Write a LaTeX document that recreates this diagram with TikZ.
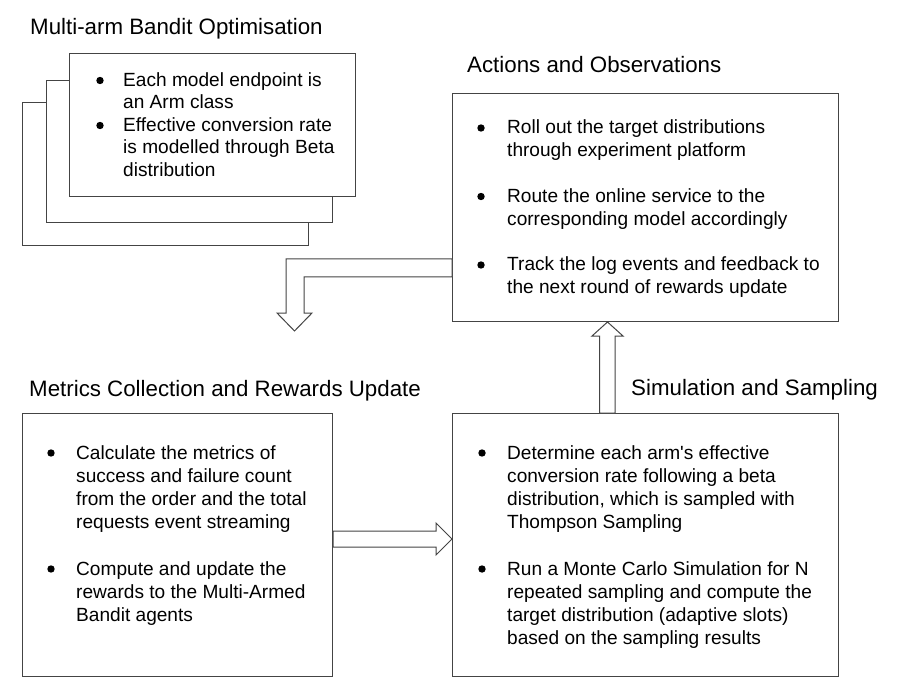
\documentclass[tikz,border=0pt]{standalone}
\usepackage{fontspec}
\setmainfont{Liberation Sans}[Ligatures=TeXOff]
\usetikzlibrary{calc}
\definecolor{edge}{HTML}{444444}
\newcommand\bultext[2][23]{\parbox[t]{360pt}{\raggedright\fontsize{19.1}{#1}\selectfont #2}}
\tikzset{
  box/.style={draw=edge, line width=1pt, fill=white, rectangle, inner sep=0pt, anchor=north west},
  heading/.style={anchor=base west, inner sep=0pt, font=\fontsize{22.3}{26}\selectfont},
  item/.style={anchor=base west, inner sep=0pt},
  dot/.style={fill=black},
  blockarrow/.style={draw=edge, line width=1pt, fill=white, line join=miter}
}
\begin{document}
\begin{tikzpicture}[x=1pt,y=-1pt]
\useasboundingbox (0,0) rectangle (901,692);

% headings
\node[heading] (h1) at (30,35) {Multi-arm Bandit Optimisation};
\node[heading] (h2) at (467,73) {Actions and Observations};
\node[heading] (h3) at (29,396) {Metrics Collection and Rewards Update};
\node[heading] (h4) at (631,395) {Simulation and Sampling};

% stacked arm boxes
\node[box, minimum width=286pt, minimum height=143pt] (back) at (22,102) {};
\node[box, minimum width=286pt, minimum height=142pt] (mid) at (46,80) {};
\node[box, minimum width=286pt, minimum height=143pt] (front) at (69,53) {};

% main boxes
\node[box, minimum width=386pt, minimum height=228pt] (act) at (452,93) {};
\node[box, minimum width=310pt, minimum height=263pt] (met) at (22,413) {};
\node[box, minimum width=386pt, minimum height=263pt] (sim) at (452,413) {};

% block arrows
\draw[blockarrow] (act.west |- 0,259) -- (286,259) -- (286,313) -- (277,313) -- (294.5,331)
  -- (312,313) -- (304,313) -- (304,277) -- (act.west |- 0,277) -- cycle;
\draw[blockarrow] (met.east |- 0,531) -- (436,531) -- (436,523) -- (sim.west |- 0,539)
  -- (436,555) -- (436,547) -- (met.east |- 0,547) -- cycle;
\draw[blockarrow] (sim.north -| 599.5,0) -- (599.5,336) -- (592,336) -- (act.south -| 607.5,0)
  -- (623,336) -- (615,336) -- (sim.north -| 615,0) -- cycle;

% front box text
\node[item] (f1) at (123,86.5) {\bultext[22.5]{Each model endpoint is\\an Arm class}};
\node[item] (f2) at (123,131.5) {\bultext[22.5]{Effective conversion rate\\is modelled through Beta\\distribution}};
\fill[dot] (100,80.5) circle[radius=3.7pt];
\fill[dot] (100,125.5) circle[radius=3.7pt];

% actions text
\node[item] (a1) at (507,134) {\bultext{Roll out the target distributions\\through experiment platform}};
\node[item] (a2) at (507,202.5) {\bultext{Route the online service to the\\corresponding model accordingly}};
\node[item] (a3) at (507,271) {\bultext{Track the log events and feedback to\\the next round of rewards update}};
\fill[dot] (481,128) circle[radius=3.7pt];
\fill[dot] (481,196.5) circle[radius=3.7pt];
\fill[dot] (481,265) circle[radius=3.7pt];

% metrics text
\node[item] (m1) at (76,459) {\bultext[23.3]{Calculate the metrics of\\success and failure count\\from the order and the total\\requests event streaming}};
\node[item] (m2) at (76,575) {\bultext[23.3]{Compute and update the\\rewards to the Multi-Armed\\Bandit agents}};
\fill[dot] (51,453) circle[radius=3.7pt];
\fill[dot] (51,569) circle[radius=3.7pt];

% simulation text
\node[item] (s1) at (507,459) {\bultext[23.3]{Determine each arm's effective\\conversion rate following a beta\\distribution, which is sampled with\\Thompson Sampling}};
\node[item] (s2) at (507,575) {\bultext[23.3]{Run a Monte Carlo Simulation for N\\repeated sampling and compute the\\target distribution (adaptive slots)\\based on the sampling results}};
\fill[dot] (482,453) circle[radius=3.7pt];
\fill[dot] (482,569) circle[radius=3.7pt];
\end{tikzpicture}
\end{document}
